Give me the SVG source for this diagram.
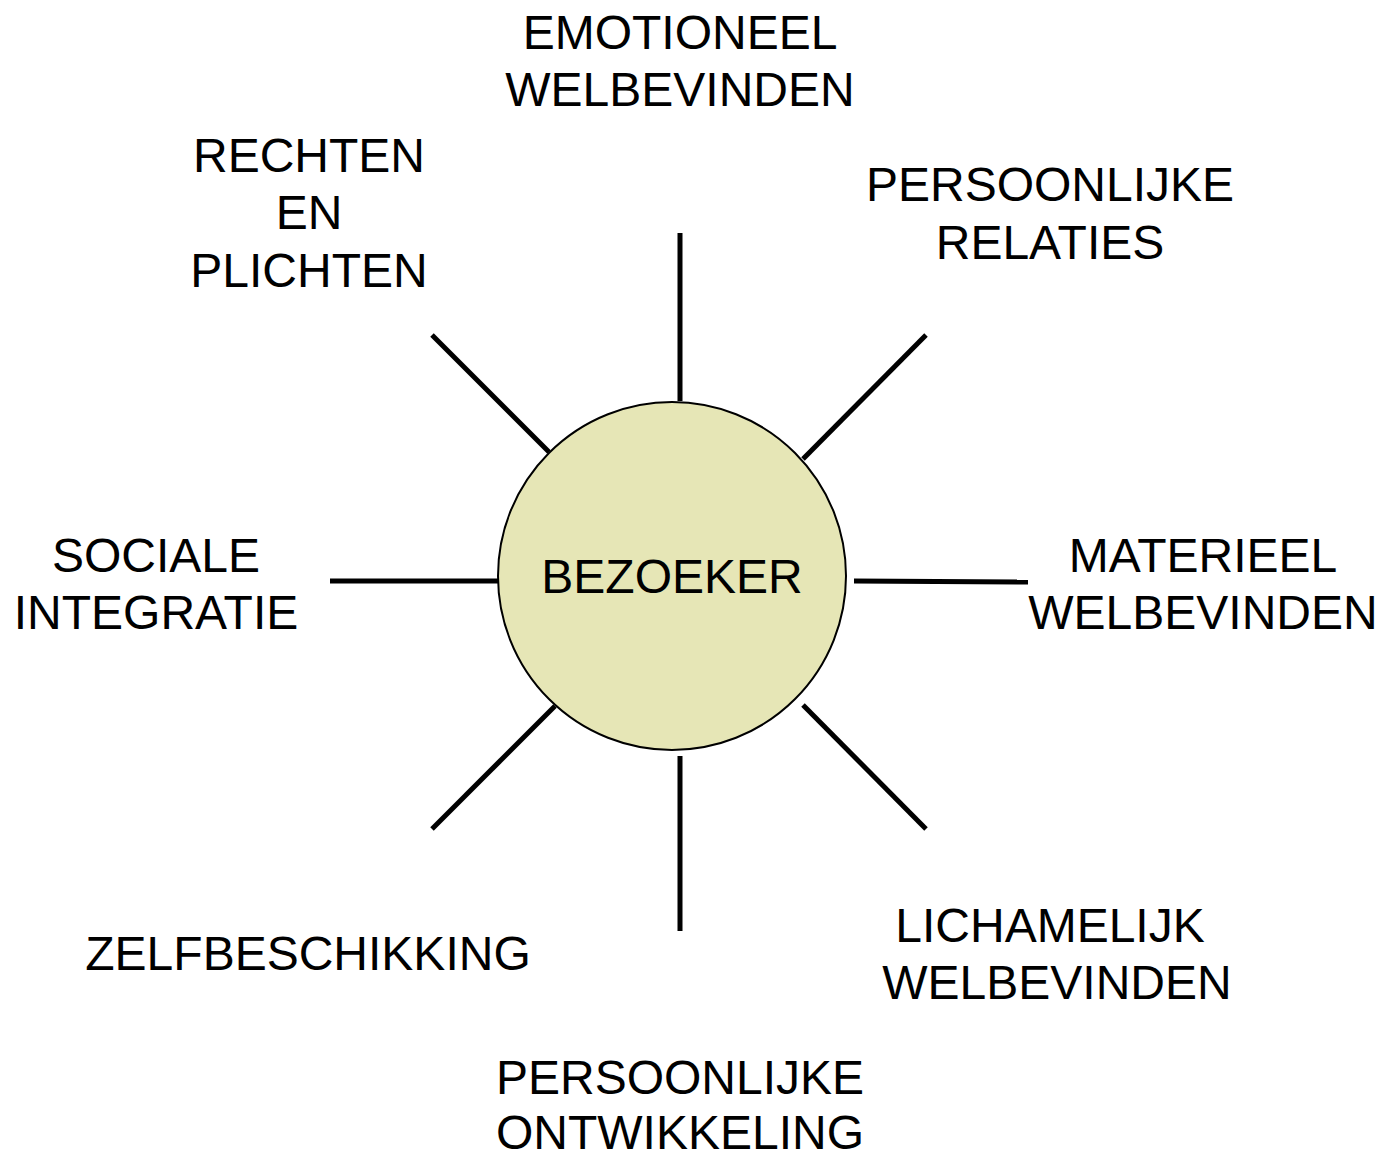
<svg xmlns="http://www.w3.org/2000/svg" width="1384" height="1159" viewBox="0 0 1384 1159">
<style>
.lbl{font-family:"Liberation Sans",Arial,sans-serif;font-size:48px;fill:#000;text-anchor:middle}
.spoke{stroke:#000;stroke-width:5;fill:none}
</style>
<rect width="1384" height="1159" fill="#fff"/>
<g id="connectors">
<line class="spoke" x1="680" y1="233" x2="680" y2="401"/>
<line class="spoke" x1="926" y1="335" x2="803" y2="459"/>
<line class="spoke" x1="854" y1="581" x2="1028" y2="582"/>
<line class="spoke" x1="803" y1="705" x2="926" y2="829"/>
<line class="spoke" x1="680" y1="756" x2="680" y2="931"/>
<line class="spoke" x1="555" y1="706" x2="432" y2="829"/>
<line class="spoke" x1="330" y1="581" x2="498" y2="581"/>
<line class="spoke" x1="432" y1="335" x2="549" y2="452"/>
</g>
<g id="bezoeker">
<circle cx="672" cy="576" r="174" fill="#e6e6b6" stroke="#000" stroke-width="2"/>
<text class="lbl" x="672" y="593">BEZOEKER</text>
</g>
<g id="emotioneel">
<text class="lbl" x="680" y="49">EMOTIONEEL</text>
<text class="lbl" x="680" y="106">WELBEVINDEN</text>
</g>
<g id="rechten">
<text class="lbl" x="309" y="172">RECHTEN</text>
<text class="lbl" x="309" y="229">EN</text>
<text class="lbl" x="309" y="287">PLICHTEN</text>
</g>
<g id="relaties">
<text class="lbl" x="1050" y="201">PERSOONLIJKE</text>
<text class="lbl" x="1050" y="259">RELATIES</text>
</g>
<g id="sociale">
<text class="lbl" x="156" y="572">SOCIALE</text>
<text class="lbl" x="156" y="629">INTEGRATIE</text>
</g>
<g id="materieel">
<text class="lbl" x="1203" y="572">MATERIEEL</text>
<text class="lbl" x="1203" y="629">WELBEVINDEN</text>
</g>
<g id="lichamelijk">
<text class="lbl" x="1050" y="942">LICHAMELIJK</text>
<text class="lbl" x="1057" y="999">WELBEVINDEN</text>
</g>
<g id="zelfbeschikking">
<text class="lbl" x="308" y="970">ZELFBESCHIKKING</text>
</g>
<g id="ontwikkeling">
<text class="lbl" x="680" y="1094">PERSOONLIJKE</text>
<text class="lbl" x="680" y="1149">ONTWIKKELING</text>
</g>
</svg>
